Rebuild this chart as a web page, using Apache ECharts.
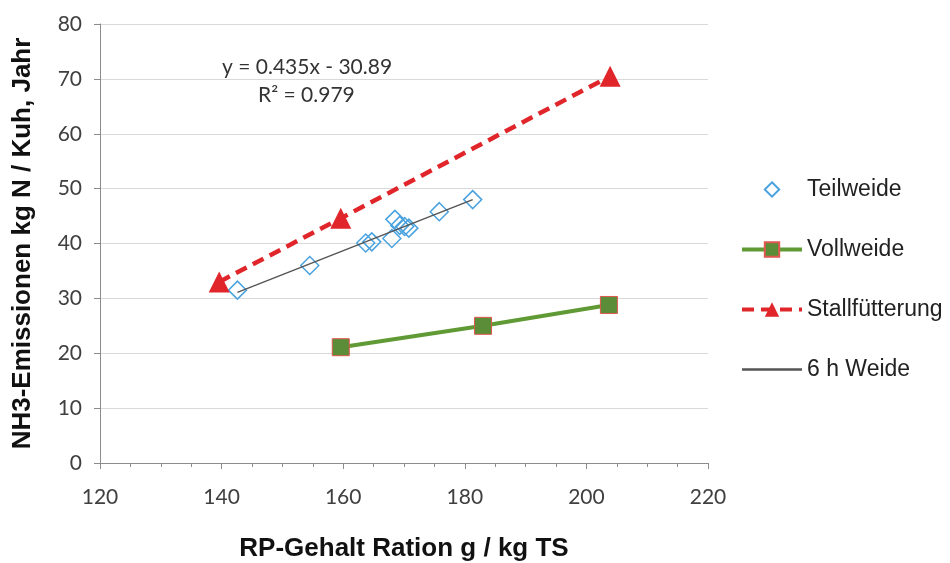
<!DOCTYPE html>
<html>
<head>
<meta charset="utf-8">
<script src="https://cdn.jsdelivr.net/npm/echarts@6/dist/echarts.min.js"></script>
<style>
  html, body { margin: 0; padding: 0; background: #fff; }
  #main { width: 950px; height: 563px; }
</style>
</head>
<body>
<div id="main"></div>
<script>
// Daten
var teilweide = [
  [142.6, 31.5], [154.5, 36.0], [163.7, 40.1], [164.7, 40.3], [168.0, 40.9],
  [168.5, 44.4], [169.3, 43.3], [170.1, 43.1], [170.8, 42.8], [175.8, 45.8],
  [181.3, 48.0]
];
var vollweide = [[159.6, 21.1], [183.0, 25.0], [203.7, 28.8]];
var stallfuetterung = [[139.6, 33.0], [159.6, 44.6], [203.9, 70.5]];
var weide6h = [[142.6, 31.1], [181.3, 48.0]];

var xTicks = { min: 120, max: 220, interval: 20 };
var yTicks = { min: 0, max: 80, interval: 10 };

var myChart = echarts.init(document.getElementById('main'));

var axisColor = '#8c8c8c';
var labelColor = '#404040';
var tickFont = 'Lato, Calibri, sans-serif';
var titleFont = 'Liberation Sans, Arial, sans-serif';

var option = {
  backgroundColor: '#fff',
  animation: false,
  grid: {
    left: 100,
    right: 242,
    top: 24,
    bottom: 100,
    containLabel: false,
    outerBoundsMode: 'none'
  },
  legend: {
    orient: 'vertical',
    left: 740,
    top: 178,
    padding: 0,
    itemWidth: 60,
    itemHeight: 18,
    itemGap: 37,
    textStyle: {
      fontFamily: titleFont,
      fontSize: 23,
      color: '#222'
    },
    data: [
      'Teilweide',
      { name: 'Vollweide', lineStyle: { width: 4 } },
      { name: 'Stallfütterung', lineStyle: { width: 4 } },
      { name: '6 h Weide', itemStyle: { opacity: 0 }, lineStyle: { width: 2.5 } }
    ]
  },
  xAxis: {
    type: 'value',
    min: xTicks.min,
    max: xTicks.max,
    interval: xTicks.interval,
    name: 'RP-Gehalt Ration g / kg TS',
    nameLocation: 'middle',
    nameGap: 73,
    nameTextStyle: {
      fontFamily: titleFont,
      fontSize: 26,
      fontWeight: 'bold',
      color: '#111'
    },
    axisLine: { show: true, lineStyle: { color: axisColor } },
    axisTick: { show: true, length: 6, lineStyle: { color: axisColor } },
    minorTick: { show: true, splitNumber: 4, length: 4, lineStyle: { color: axisColor } },
    splitLine: { show: false },
    axisLabel: {
      margin: 24,
      fontFamily: tickFont,
      fontSize: 21,
      color: labelColor
    }
  },
  yAxis: {
    type: 'value',
    min: yTicks.min,
    max: yTicks.max,
    interval: yTicks.interval,
    name: 'NH3-Emissionen kg N / Kuh, Jahr',
    nameLocation: 'middle',
    nameGap: 64,
    nameRotate: 90,
    nameTextStyle: {
      fontFamily: titleFont,
      fontSize: 26,
      fontWeight: 'bold',
      color: '#111'
    },
    axisLine: { show: true, lineStyle: { color: axisColor } },
    axisTick: { show: true, length: 6, lineStyle: { color: axisColor } },
    splitLine: { show: true, lineStyle: { color: '#d9d9d9', width: 1 } },
    axisLabel: {
      margin: 18,
      fontFamily: tickFont,
      fontSize: 21,
      color: labelColor
    }
  },
  graphic: [
    {
      type: 'text',
      left: 222,
      top: 57,
      style: {
        text: 'y = 0.435x - 30.89',
        fontFamily: tickFont,
        fontSize: 21,
        fill: '#333'
      }
    },
    {
      type: 'text',
      left: 258,
      top: 85,
      style: {
        text: 'R² = 0.979',
        fontFamily: tickFont,
        fontSize: 21,
        fill: '#333'
      }
    }
  ],
  series: [
    {
      name: '6 h Weide',
      type: 'line',
      data: weide6h,
      showSymbol: false,
      symbol: 'none',
      lineStyle: { color: '#555', width: 1.5 },
      itemStyle: { color: '#555' },
      z: 3
    },
    {
      // nur Punkte, Linie unsichtbar
      name: 'Teilweide',
      type: 'line',
      data: teilweide,
      symbol: 'diamond',
      symbolSize: 18,
      lineStyle: { opacity: 0, width: 0 },
      itemStyle: {
        color: 'rgba(255,255,255,0)',
        borderColor: '#4aa3df',
        borderWidth: 1.5
      },
      z: 2
    },
    {
      name: 'Vollweide',
      type: 'line',
      data: vollweide,
      symbol: 'rect',
      symbolSize: 17,
      lineStyle: { color: '#5f9a35', width: 4 },
      itemStyle: { color: '#5b8c37', borderColor: '#e0574f', borderWidth: 1 },
      z: 4
    },
    {
      name: 'Stallfütterung',
      type: 'line',
      data: stallfuetterung,
      symbol: 'triangle',
      symbolSize: 21,
      lineStyle: { color: '#e0262b', width: 4.5, type: [12, 7] },
      itemStyle: { color: '#e0262b' },
      z: 4
    }
  ]
};

myChart.setOption(option);
</script>
</body>
</html>
